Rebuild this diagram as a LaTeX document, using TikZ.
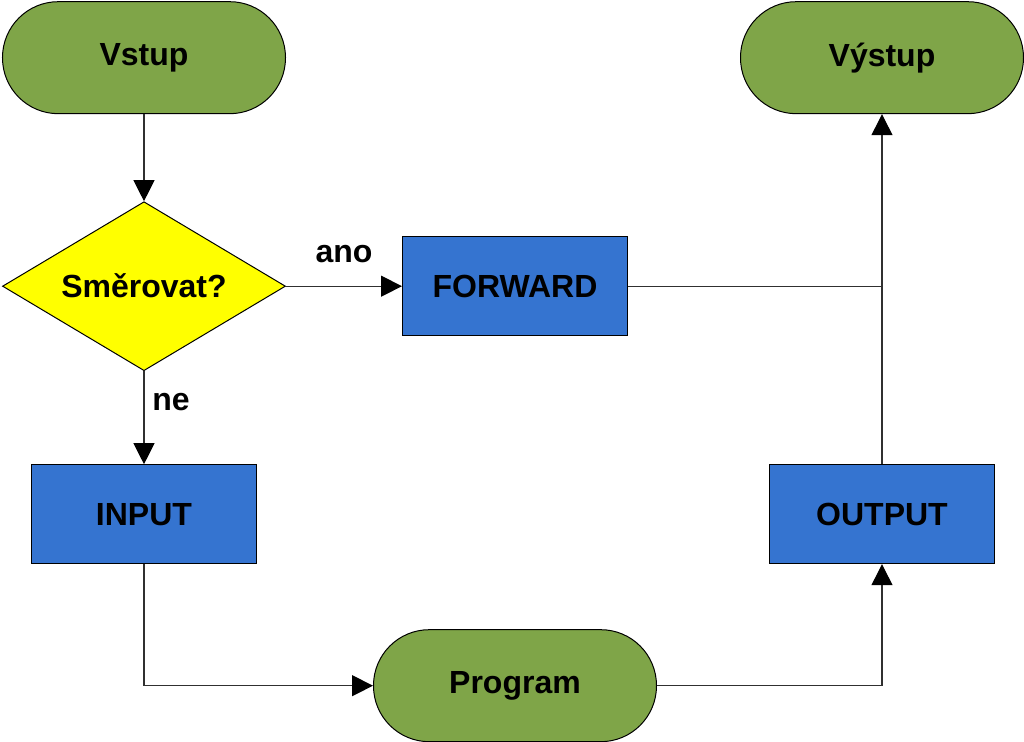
\documentclass[tikz,border=0pt]{standalone}
\usepackage{fontspec}
\setmainfont{Liberation Sans}
\usetikzlibrary{positioning,shapes.geometric,arrows.meta,calc}
\definecolor{txt}{HTML}{000000}
\definecolor{gnF}{HTML}{7FA548}
\definecolor{blF}{HTML}{3574D0}
\definecolor{ylF}{HTML}{FFFF00}
\definecolor{lnB}{HTML}{303030}

\begin{document}
\begin{tikzpicture}[
  font=\fontsize{16}{19}\selectfont\bfseries,text=txt,
  >={Triangle[length=10.5pt,width=10.5pt,color=black]},
  bx/.style={draw=black,line width=0.5pt,align=center,inner sep=3pt},
  term/.style={bx,rounded corners=27.9pt,fill=gnF,minimum width=141.5pt,minimum height=56pt},
  proc/.style={bx,fill=blF,minimum width=112.5pt,minimum height=49.5pt},
  dec/.style={bx,diamond,aspect=1.67,fill=ylF,minimum width=141.5pt,minimum height=84.5pt,inner sep=0pt},
  con/.style={lnB,line width=0.6pt},
  lbl/.style={text=txt},
  ]

% ================= nodes =================
\node[term] (vstup) {Vstup};
\node[term,right=227pt of vstup] (vystup) {Výstup};
\node[dec,below=43.5pt of vstup] (smer) {Směrovat?};
\node[proc,right=58pt of smer] (fwd) {FORWARD};
\node[proc,below=46.5pt of smer] (inp) {INPUT};
\node[proc] (outp) at (vystup |- inp) {OUTPUT};
\node[term,anchor=north] (prog) at ([yshift=-32.5pt]inp.south -| fwd) {Program};

\coordinate (join) at (fwd.east -| outp.north);

% ================= connectors =================
\draw[con,->] (vstup) -- (smer);
\draw[con,->] (smer) -- node[lbl,midway,above=8pt]{ano} (fwd);
\draw[con,->] (smer) -- node[lbl,pos=0.33,right=0.5pt]{ne} (inp);
\draw[con] (fwd) -- (join);
\draw[con,->] (inp) |- (prog);
\draw[con,->] (prog) -| (outp);
\draw[con,->] (outp) -- (vystup);

% ================= frame =================
\pgfresetboundingbox
\useasboundingbox ([shift={(-1pt,0.6pt)}]vstup.north west) rectangle +(512pt,-371pt);

\end{tikzpicture}
\end{document}
